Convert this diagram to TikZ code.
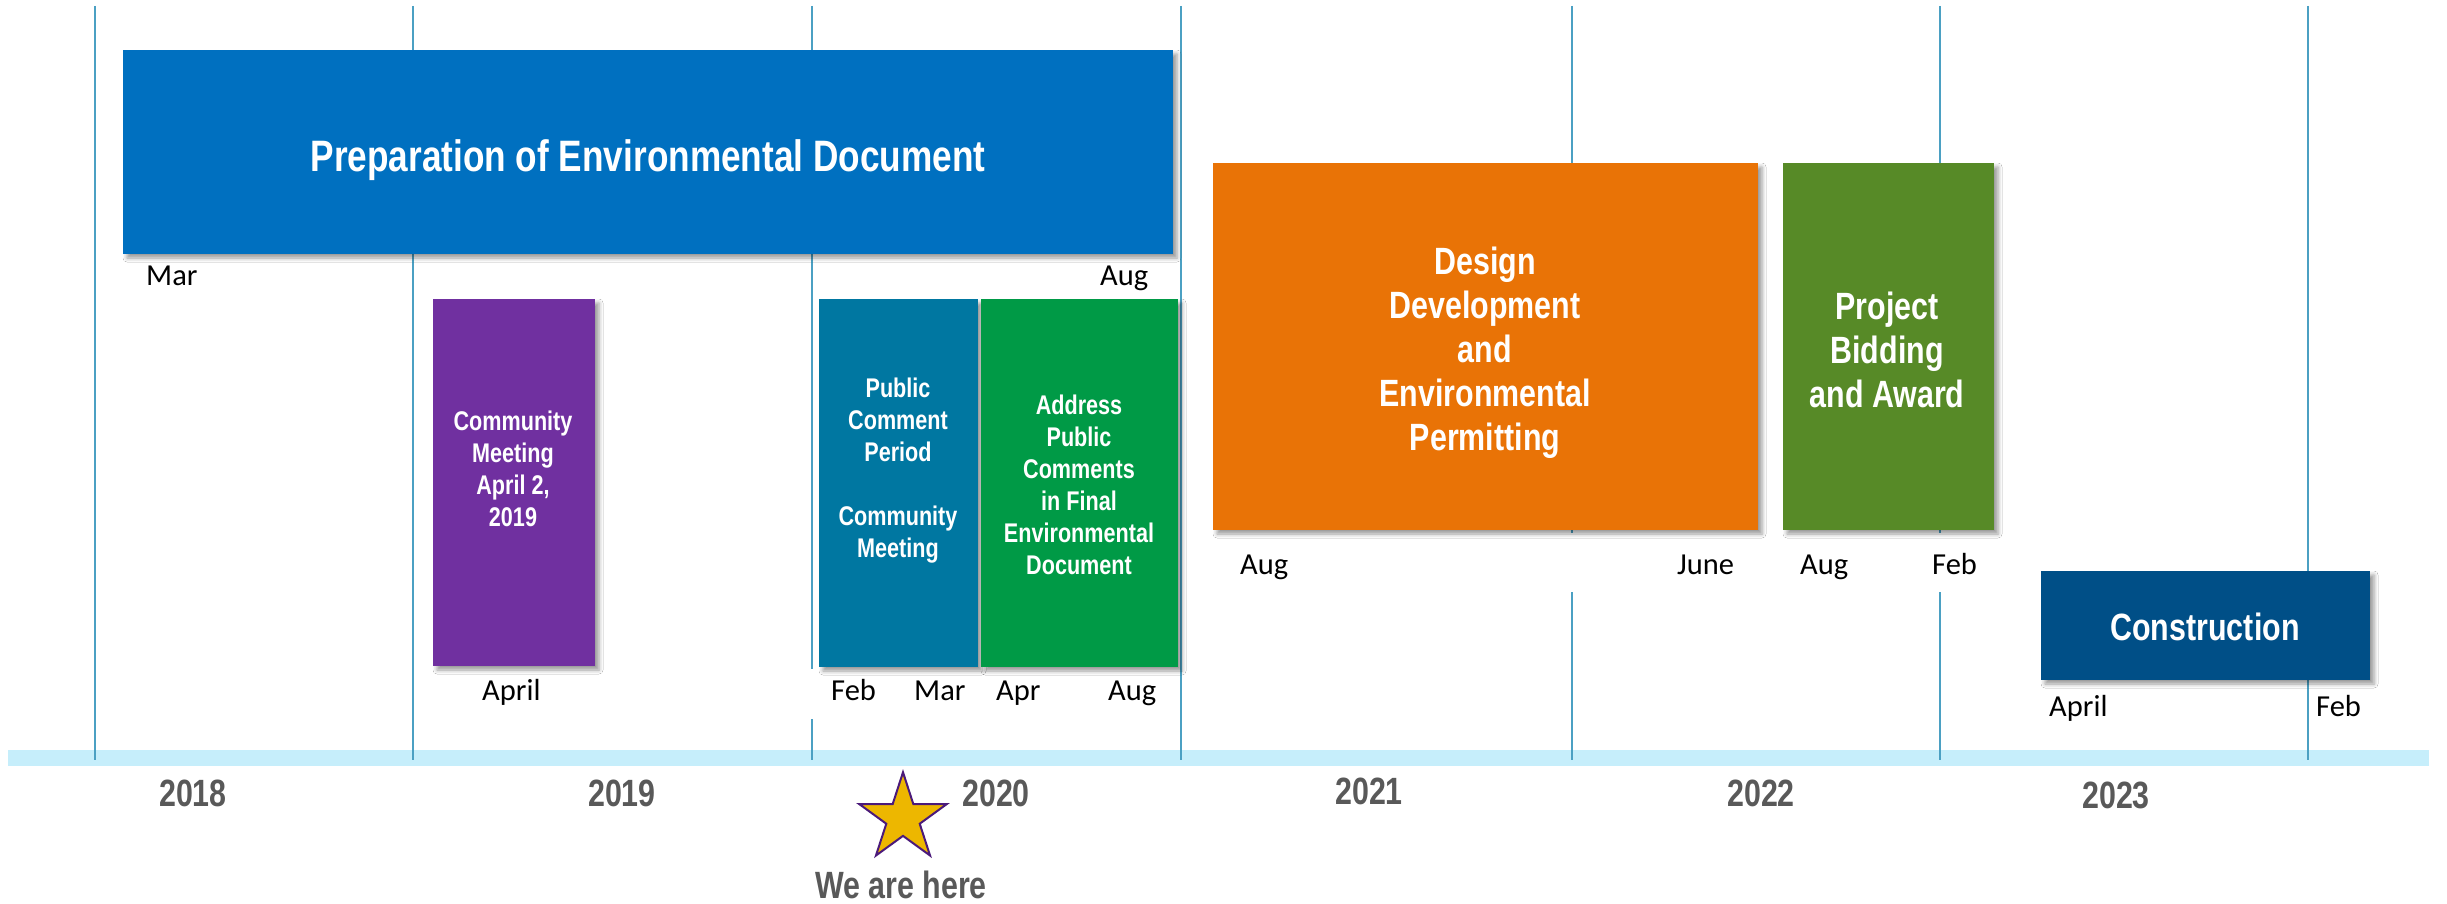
\documentclass[tikz,border=0pt]{standalone}
\usepackage{fontspec}
\newfontfamily\narrowf[FakeStretch=0.8]{Liberation Sans}
\newfontfamily\calibf{Carlito}
\usetikzlibrary{shapes.geometric,shadows.blur}
\definecolor{cprep}{HTML}{0070C0}
\definecolor{cpurple}{HTML}{7030A0}
\definecolor{cteal}{HTML}{0077A1}
\definecolor{cgreen}{HTML}{009A46}
\definecolor{corange}{HTML}{E97306}
\definecolor{colive}{HTML}{578A27}
\definecolor{cnavy}{HTML}{004F87}
\definecolor{cband}{HTML}{C6EEFB}
\definecolor{cline}{HTML}{4BA0C3}
\definecolor{cyear}{HTML}{595959}
\definecolor{cgold}{HTML}{EDB700}
\definecolor{cstar}{HTML}{4B1A7A}
\begin{document}
\begin{tikzpicture}[x=1pt,y=-1pt,
  vline/.style={draw=cline, line width=2pt},
  bar/.style={inner sep=0pt, outer sep=0pt, anchor=north west,
    blur shadow={shadow xshift=4pt, shadow yshift=-4pt, shadow blur radius=4pt, shadow opacity=40}},
  boxtxt/.style={text=white, align=center, inner sep=0pt},
  big/.style={font=\narrowf\bfseries\fontsize{38}{44}\selectfont},
  small/.style={font=\narrowf\bfseries\fontsize{27}{32}\selectfont},
  mon/.style={font=\calibf\fontsize{30.5}{36}\selectfont, inner sep=0pt, anchor=base west},
  yr/.style={font=\narrowf\bfseries\fontsize{38}{44}\selectfont, text=cyear, inner sep=0pt, anchor=base}]
\useasboundingbox (0,0) rectangle (2447,904);
\fill[white] (0,0) rectangle (2447,904);
% timeline band
\fill[cband] (8,750) rectangle (2429,766);
% year grid lines
\foreach \xx in {95,413,812,1181,1572,1940,2308}
  \draw[vline] (\xx,6) -- (\xx,760);
% label backgrounds covering grid lines
\fill[white] (800,669) rectangle (1170,719);
\fill[white] (1200,533) rectangle (2000,592);
% bars
\node[bar, fill=cprep, minimum width=1050pt, minimum height=204pt] (prep) at (123,50) {};
\node[bar, fill=cpurple, minimum width=162pt, minimum height=367pt] (meet) at (433,299) {};
\node[bar, fill=cteal, minimum width=159pt, minimum height=368pt] (pcp) at (819,299) {};
\node[bar, fill=cgreen, minimum width=197pt, minimum height=368pt] (addr) at (981,299) {};
\node[bar, fill=corange, minimum width=545pt, minimum height=367pt] (design) at (1213,163) {};
\node[bar, fill=colive, minimum width=211pt, minimum height=367pt] (bid) at (1783,163) {};
\node[bar, fill=cnavy, minimum width=329pt, minimum height=109pt] (constr) at (2041,571) {};
% bar texts
\node[boxtxt, font=\narrowf\bfseries\fontsize{44}{50}\selectfont, anchor=base] (preptxt) at (648,171.8) {Preparation of Environmental Document};
\node[boxtxt, small, anchor=north] (meettxt) at (513,408.4) {\rule{0pt}{0.8em}Community\\Meeting\\April 2,\\2019};
\node[boxtxt, small, anchor=north] (pcptxt) at (898,375.4) {\rule{0pt}{0.8em}Public\\Comment\\Period\\[32pt]Community\\Meeting};
\node[boxtxt, small, anchor=north] (addrtxt) at (1079,392.4) {\rule{0pt}{0.8em}Address\\Public\\Comments\\in Final\\Environmental\\Document};
\node[boxtxt, big, anchor=north] (designtxt) at (1485,244.2) {\rule{0pt}{0.8em}Design\\Development\\and\\Environmental\\Permitting};
\node[boxtxt, big, anchor=north] (bidtxt) at (1887,289.2) {\rule{0pt}{0.8em}Project\\Bidding\\and Award};
\node[boxtxt, big, anchor=base] (constrtxt) at (2205,640.6) {Construction};
% month labels
\node[mon] (m1) at (146,285) {Mar};
\node[mon] (m2) at (1100,285) {Aug};
\node[mon] (m3) at (482,700.5) {April};
\node[mon] (m4) at (831,700.5) {Feb};
\node[mon] (m5) at (914,700.5) {Mar};
\node[mon] (m6) at (996,700.5) {Apr};
\node[mon] (m7) at (1108,700.5) {Aug};
\node[mon] (m8) at (1240,574) {Aug};
\node[mon] (m9) at (1677,574) {June};
\node[mon] (m10) at (1800,574) {Aug};
\node[mon] (m11) at (1932,574) {Feb};
\node[mon] (m12) at (2049,716) {April};
\node[mon] (m13) at (2316,716) {Feb};
% years
\node[yr] (y18) at (193,806.6) {2018};
\node[yr] (y19) at (622,806.6) {2019};
\node[yr] (y20) at (996,806.6) {2020};
\node[yr] (y21) at (1369,804.6) {2021};
\node[yr] (y22) at (1761,806.6) {2022};
\node[yr] (y23) at (2116,808) {2023};
% we are here
\node[star, star points=5, star point ratio=2.618, minimum size=92pt, inner sep=0pt,
  fill=cgold, draw=cstar, line width=2pt] (here) at (903,818.3) {};
\node[yr] (heretxt) at (901,898.6) {We are here};
\end{tikzpicture}
\end{document}
